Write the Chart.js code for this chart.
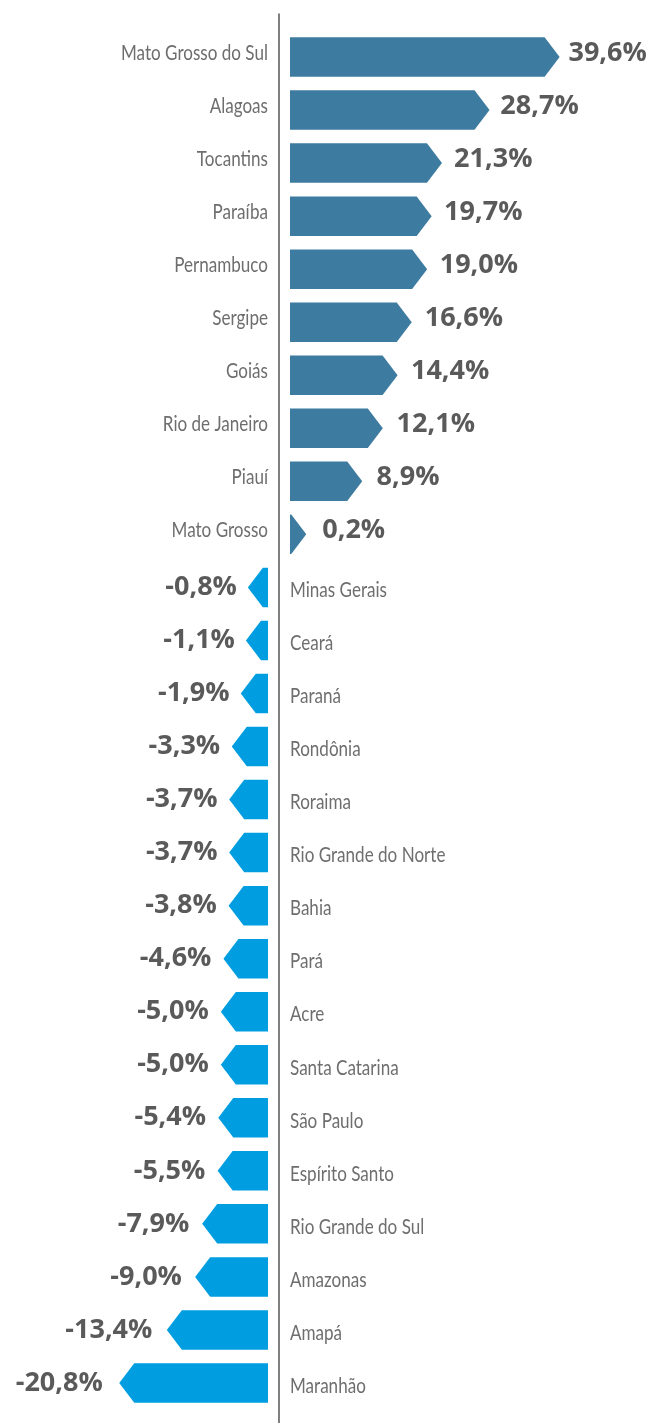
<!DOCTYPE html>
<html lang="pt">
  <head>
    <meta charset="UTF-8" />
    <title>Variação por estado</title>
    <style>
      body {
        margin: 0;
        padding: 0;
        background-color: #ffffff;
      }
      .chart-container {
        width: 651px;
        height: 1423px;
      }
    </style>
  </head>
  <body>
    <div class="chart-container">
      <canvas id="myChart"></canvas>
    </div>
    <script src="https://cdn.jsdelivr.net/npm/chart.js@4.4.1/dist/chart.umd.min.js"></script>
    <script>
      const categories = [
        "Mato Grosso do Sul", "Alagoas", "Tocantins", "Paraíba", "Pernambuco",
        "Sergipe", "Goiás", "Rio de Janeiro", "Piauí", "Mato Grosso",
        "Minas Gerais", "Ceará", "Paraná", "Rondônia", "Roraima",
        "Rio Grande do Norte", "Bahia", "Pará", "Acre", "Santa Catarina",
        "São Paulo", "Espírito Santo", "Rio Grande do Sul", "Amazonas", "Amapá",
        "Maranhão",
      ];
      const values = [
        39.6, 28.7, 21.3, 19.7, 19.0, 16.6, 14.4, 12.1, 8.9, 0.2,
        -0.8, -1.1, -1.9, -3.3, -3.7, -3.7, -3.8, -4.6, -5.0, -5.0,
        -5.4, -5.5, -7.9, -9.0, -13.4, -20.8,
      ];

      const POS_COLOR = "#3E7BA0";
      const NEG_COLOR = "#009EE0";
      const GAP = 11; // space between the axis line and the bars
      const TIP = 15; // arrow tip length
      const LABEL_FONT = "400 21px Lato, 'Noto Sans', sans-serif";
      const VALUE_FONT = "bold 27px 'Open Sans', sans-serif";

      const fmt = (v) => v.toFixed(1).replace(".", ",") + "%";

      // draws arrow bars, the centre line and all labels
      const arrowBars = {
        id: "arrowBars",
        afterDatasetsDraw(chart) {
          const ctx = chart.ctx;
          const meta = chart.getDatasetMeta(0);
          const zero = chart.scales.x.getPixelForValue(0);
          const area = chart.chartArea;

          ctx.save();
          ctx.strokeStyle = "#7F7F7F";
          ctx.lineWidth = 2;
          ctx.beginPath();
          ctx.moveTo(zero, area.top - 17);
          ctx.lineTo(zero, chart.height);
          ctx.stroke();

          // category labels are in a tall, narrow face: squeeze Lato to fit
          ctx.font = LABEL_FONT;
          const squeeze = 147 / ctx.measureText("Mato Grosso do Sul").width;

          meta.data.forEach((bar, i) => {
            const v = values[i];
            const dir = v >= 0 ? 1 : -1;
            const h = bar.height / 2;
            const y = bar.y;
            const x0 = bar.base + dir * GAP;
            const x1 = bar.x + dir * GAP;
            const tip = x1 + dir * TIP;

            ctx.fillStyle = v >= 0 ? POS_COLOR : NEG_COLOR;
            ctx.beginPath();
            ctx.moveTo(x0, y - h);
            ctx.lineTo(x1, y - h);
            ctx.lineTo(tip, y);
            ctx.lineTo(x1, y + h);
            ctx.lineTo(x0, y + h);
            ctx.closePath();
            ctx.fill();

            // value label
            const pad = dir > 0 ? 16 - 0.18 * v : 10.7 - 0.28 * v;
            ctx.fillStyle = "#5A5A5A";
            ctx.font = VALUE_FONT;
            ctx.textBaseline = "middle";
            ctx.textAlign = dir > 0 ? "left" : "right";
            ctx.fillText(fmt(v), tip + dir * pad, dir > 0 ? y - 4 : y);

            // category label on the opposite side
            ctx.save();
            ctx.fillStyle = "#6E6E6E";
            ctx.font = LABEL_FONT;
            ctx.textAlign = dir > 0 ? "right" : "left";
            ctx.translate(zero - dir * GAP, dir > 0 ? y - 4 : y + 3);
            ctx.scale(squeeze, 1);
            ctx.fillText(categories[i], 0, 0);
            ctx.restore();
          });
          ctx.restore();
        },
      };

      const data = {
        labels: categories,
        datasets: [
          {
            data: values,
            backgroundColor: "rgba(0,0,0,0)",
            borderWidth: 0,
            categoryPercentage: 1,
            barPercentage: 0.745,
          },
        ],
      };

      const config = {
        type: "bar",
        data: data,
        options: {
          indexAxis: "y",
          responsive: true,
          maintainAspectRatio: false,
          animation: false,
          layout: {
            padding: { left: 2.5, right: 5.5, top: 30.5, bottom: 13.5 },
          },
          scales: {
            x: { display: false, min: -43, max: 57 },
            y: { display: false },
          },
          plugins: {
            legend: { display: false },
            tooltip: { enabled: false },
          },
        },
        plugins: [arrowBars],
      };

      const ctx = document.getElementById("myChart").getContext("2d");
      const myChart = new Chart(ctx, config);
    </script>
  </body>
</html>
